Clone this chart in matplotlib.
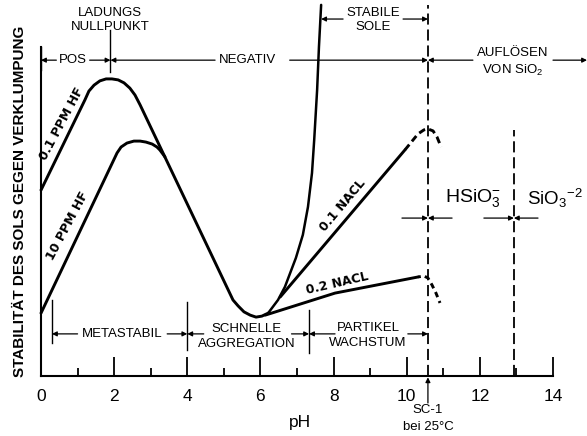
import matplotlib
matplotlib.use("Agg")
import matplotlib.pyplot as plt
from matplotlib.ticker import MultipleLocator

plt.rcParams['font.family'] = ['Liberation Sans', 'DejaVu Sans']
plt.rcParams['mathtext.fontset'] = 'custom'
plt.rcParams['mathtext.rm'] = 'Liberation Sans'
plt.rcParams['mathtext.it'] = 'Liberation Sans'
plt.rcParams['lines.scale_dashes'] = False

# ---------------- data (pH, relative stability 0..10) ----------------
hf01_x = [0.00, 1.20, 1.31, 1.45, 1.61, 1.78, 1.94, 2.11, 2.27, 2.43, 2.57, 2.71,
          5.25, 5.39, 5.55, 5.72, 5.88, 6.04, 6.21]
hf01_y = [5.65, 8.39, 8.66, 8.84, 8.97, 9.03, 9.03, 9.00, 8.91, 8.75, 8.54, 8.24,
          2.31, 2.13, 1.95, 1.85, 1.79, 1.82, 1.91]

hf10_x = [0.00, 2.08, 2.19, 2.35, 2.54, 2.71, 2.87, 3.04, 3.17, 3.25, 3.39]
hf10_y = [1.91, 6.78, 6.96, 7.08, 7.14, 7.14, 7.11, 7.05, 6.96, 6.87, 6.66]

stable_x = [6.21, 6.48, 6.67, 6.97, 7.16, 7.30, 7.41, 7.47, 7.55, 7.60, 7.66]
stable_y = [1.91, 2.31, 2.71, 3.59, 4.29, 5.14, 6.17, 7.17, 8.69, 10.00, 11.28]

nacl01_x = [6.54, 9.95]
nacl01_y = [2.40, 6.87]
nacl01_cap_x = [9.95, 10.31, 10.47, 10.58, 10.72, 10.83, 10.94]
nacl01_cap_y = [6.87, 7.36, 7.48, 7.51, 7.45, 7.26, 6.96]

nacl02_x = [6.13, 8.04, 10.31]
nacl02_y = [1.85, 2.52, 3.01]
nacl02_cap_x = [10.31, 10.47, 10.58, 10.69, 10.80, 10.91]
nacl02_cap_y = [3.01, 3.04, 2.98, 2.77, 2.52, 2.22]

ph_sc1 = 10.58
ph_pka2 = 12.93
ph_zero = 1.90
ph_meta = 0.30
ph_fast = 4.00
ph_grow = 7.33
ph_stable = 7.66

xticks_major = [0, 2, 4, 6, 8, 10, 12, 14]
xtick_labels = ['0', '2', '4', '6', '8', '10', '12', '14']

curve_labels = ['0.1 PPM HF', '10 PPM HF', '0.1 NACL', '0.2 NACL']

# ---------------- figure ----------------
fig = plt.figure(figsize=(5.87, 4.36), dpi=100)
ax = fig.add_axes([41/587, 60/436, 512/587, 329/436])
ax.set_xlim(0, 14)
ax.set_ylim(0, 10)
for s in ['top', 'right']:
    ax.spines[s].set_visible(False)
for s in ['left', 'bottom']:
    ax.spines[s].set_linewidth(1.5)
ax.set_yticks([])
ax.set_xticks(xticks_major)
ax.set_xticklabels(xtick_labels, fontsize=12.5)
ax.xaxis.set_minor_locator(MultipleLocator(1))
ax.tick_params(axis='x', which='major', direction='in', length=13.5, width=1.3, pad=9)
ax.tick_params(axis='x', which='minor', direction='in', length=5.5, width=1.3)

K = dict(color='black', clip_on=False, solid_capstyle='round', solid_joinstyle='round')
lw_c = 2.1
ax.plot(hf01_x, hf01_y, lw=lw_c, **K)
ax.plot(hf10_x, hf10_y, lw=lw_c, **K)
ax.plot(stable_x, stable_y, lw=1.8, **K)
ax.plot(nacl01_x, nacl01_y, lw=lw_c, **K)
ax.plot(nacl02_x, nacl02_y, lw=lw_c, **K)
ax.plot(nacl01_cap_x, nacl01_cap_y, lw=lw_c, color='black', clip_on=False,
        linestyle=(0, (5, 3)))
ax.plot(nacl02_cap_x, nacl02_cap_y, lw=lw_c, color='black', clip_on=False,
        linestyle=(2, (4, 3)))

# dashed verticals
ax.plot([ph_sc1, ph_sc1], [0, 11.28], lw=1.3, color='black', clip_on=False,
        linestyle=(0, (8, 3.5)))
ax.plot([ph_pka2, ph_pka2], [0, 7.48], lw=1.3, color='black', clip_on=False,
        linestyle=(0, (8, 3.5)))

# thin solid markers
T = dict(color='black', lw=1.0, clip_on=False)
ax.plot([0, 0], [10, 9.3], **T)
ax.plot([ph_zero, ph_zero], [10.52, 9.24], **T)
ax.plot([ph_meta, ph_meta], [2.31, 1.00], **T)
ax.plot([ph_fast, ph_fast], [2.25, 0.79], **T)
ax.plot([ph_grow, ph_grow], [2.01, 0.70], **T)


def arrow(x0, x1, y):
    ax.annotate('', xy=(x1, y), xytext=(x0, y), xycoords='data',
                arrowprops=dict(arrowstyle='-|>', lw=0.9, color='black',
                                mutation_scale=7, shrinkA=0, shrinkB=0),
                annotation_clip=False)


# top row (y=9.60)
yr = 9.60
arrow(0.42, 0.0, yr)
arrow(1.33, ph_zero, yr)
arrow(4.76, ph_zero, yr)
arrow(6.80, ph_sc1, yr)
arrow(11.81, ph_sc1, yr)
arrow(14.0, 14.93, yr)
# stable sols
ys = 10.85
arrow(8.26, ph_stable, ys)
arrow(9.90, ph_sc1, ys)
# species arrows
ysp = 4.80
arrow(9.87, ph_sc1, ysp)
arrow(11.24, ph_sc1, ysp)
arrow(12.11, ph_pka2, ysp)
arrow(13.59, ph_pka2, ysp)
# bottom row
yb = 1.28
arrow(1.00, ph_meta, yb)
arrow(3.45, ph_fast, yb)
arrow(4.45, ph_fast, yb)
arrow(6.85, ph_grow, yb)
arrow(8.04, ph_grow, yb)
arrow(10.03, ph_sc1, yb)
# SC-1 pointer
ax.annotate('', xy=(ph_sc1, -0.04), xytext=(ph_sc1, -0.82),
            arrowprops=dict(arrowstyle='-|>', lw=0.9, color='black',
                            mutation_scale=7, shrinkA=0, shrinkB=0),
            annotation_clip=False)

tx = dict(ha='center', va='center', fontsize=9.5, clip_on=False)
ax.text(1.89, 11.03, 'LADUNGS', **tx)
ax.text(1.89, 10.61, 'NULLPUNKT', **tx)
ax.text(0.875, yr, 'POS', **tx)
ax.text(5.66, yr, 'NEGATIV', **tx)
ax.text(9.08, 11.03, 'STABILE', **tx)
ax.text(9.08, 10.61, 'SOLE', **tx)
ax.text(12.91, 9.82, 'AUFLÖSEN', **tx)
ax.text(12.91, 9.30, 'VON SiO$_2$', **tx)
ax.text(2.215, yb, 'METASTABIL', **tx)
ax.text(5.63, 1.43, 'SCHNELLE', **tx)
ax.text(5.63, 0.97, 'AGGREGATION', **tx)
ax.text(8.94, 1.46, 'PARTIKEL', **tx)
ax.text(8.94, 1.00, 'WACHSTUM', **tx)
ax.text(ph_sc1, -1.03, 'SC-1', **tx)
ax.text(ph_sc1, -1.55, 'bei 25°C', **tx)
ax.text(11.81, 5.41, 'HSiO$_3^{-}$', ha='center', va='center', fontsize=14, clip_on=False)
ax.text(14.06, 5.41, 'SiO$_3{}^{-2}$', ha='center', va='center', fontsize=13.5, clip_on=False)
ax.text(7.08, -1.40, 'pH', ha='center', va='center', fontsize=12.5, clip_on=False)

cl = dict(ha='center', va='center', fontsize=9, fontweight='bold',
          family='DejaVu Sans', clip_on=False)
ax.text(0.57, 7.66, curve_labels[0], rotation=62, **cl)
ax.text(0.74, 4.56, curve_labels[1], rotation=62, **cl)
ax.text(8.26, 5.20, curve_labels[2], rotation=50, **cl)
ax.text(8.09, 2.80, curve_labels[3], rotation=13, **cl)

fig.text(20/587, 1 - 201/436, 'STABILITÄT DES SOLS GEGEN VERKLUMPUNG',
         rotation=90, ha='center', va='center', fontsize=11, fontweight='bold')

fig.savefig('out.png', dpi=100)
